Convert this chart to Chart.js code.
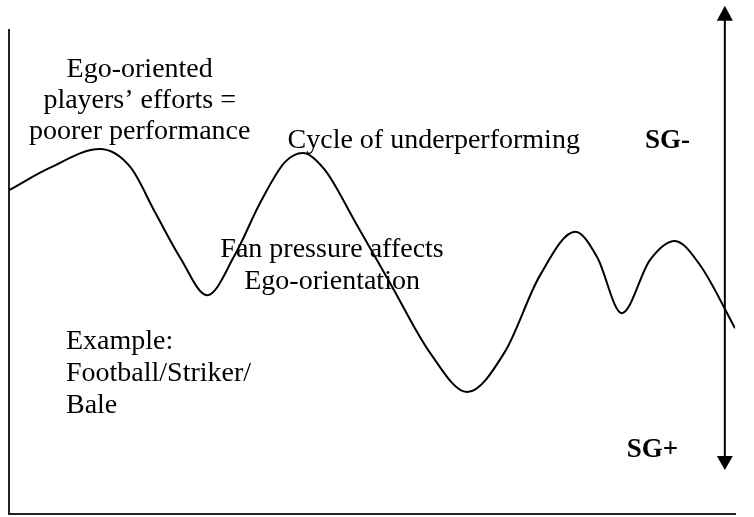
<!DOCTYPE html>
<html>
<head>
<meta charset="utf-8">
<script src="https://cdn.jsdelivr.net/npm/chart.js@4/dist/chart.umd.min.js"></script>
<style>
  html, body { margin: 0; padding: 0; background: #fff; }
  #wrap { width: 754px; height: 517px; }
</style>
</head>
<body>
<div id="wrap"><canvas id="myChart" width="754" height="517"></canvas></div>
<script>
// curve (x: 0..100 across the axis, y: 0..100 up the axis)
const curveX = [0, 5.6, 12.5, 16.7, 20.1, 23.6, 27.3, 31.1, 34.6, 38.0, 40.5, 43.5, 47.7,
    52.5, 58.0, 63.1, 68.3, 73.1, 78.0, 81.0, 84.4, 88.3, 91.7, 95.2, 100];
const curveY = [66.9, 71.5, 75.4, 71.7, 62.4, 52.9, 45.2, 53.5, 64.3, 72.7, 74.6, 71.1, 60.3,
    47.7, 33.3, 25.2, 33.5, 49.2, 58.3, 53.1, 41.5, 52.5, 56.4, 51.4, 38.4];

// text labels: lines, anchor x, baseline y of each line
const labelLines = [
    ['Ego-oriented', 'players\u2019 efforts =', 'poorer performance'],
    ['Cycle of underperforming'],
    ['Fan pressure affects', 'Ego-orientation'],
    ['Example:', 'Football/Striker/', 'Bale'],
    ['SG-'],
    ['SG+']
];
const labelX = [18.0, 58.5, 44.5, 7.85, 87.6, 85.1];
const labelY = [[90.3, 83.9, 77.5], [75.6], [53.1, 46.5], [34.1, 27.5, 20.9], [75.6], [11.8]];
const labelAlign = ['center', 'center', 'center', 'left', 'left', 'left'];
const labelBold = [false, false, false, false, true, true];

// double-headed arrow on the right
const arrowX = 98.6;
const arrowTop = 105.0;
const arrowBottom = 9.1;

const points = curveX.map((x, i) => ({ x: x, y: curveY[i] }));

const overlay = {
    id: 'overlay',
    afterDatasetsDraw(chart) {
        const ctx = chart.ctx;
        const xs = chart.scales.x;
        const ys = chart.scales.y;
        ctx.save();
        ctx.fillStyle = '#000';
        ctx.textBaseline = 'alphabetic';
        labelLines.forEach((lines, i) => {
            ctx.font = (labelBold[i] ? 'bold 27px ' : '28px ') + '"Liberation Serif", "Times New Roman", serif';
            ctx.textAlign = /** @type {CanvasTextAlign} */ (labelAlign[i]);
            lines.forEach((t, j) => {
                ctx.fillText(t, xs.getPixelForValue(labelX[i]), ys.getPixelForValue(labelY[i][j]));
            });
        });

        // arrow
        const ax = xs.getPixelForValue(arrowX);
        const top = ys.getPixelForValue(arrowTop);
        const bot = ys.getPixelForValue(arrowBottom);
        ctx.strokeStyle = '#000';
        ctx.lineWidth = 2;
        ctx.beginPath();
        ctx.moveTo(ax, top + 10);
        ctx.lineTo(ax, bot - 10);
        ctx.stroke();
        ctx.beginPath();
        ctx.moveTo(ax, top);
        ctx.lineTo(ax - 8, top + 15);
        ctx.lineTo(ax + 8, top + 15);
        ctx.closePath();
        ctx.fill();
        ctx.beginPath();
        ctx.moveTo(ax, bot);
        ctx.lineTo(ax - 8, bot - 14);
        ctx.lineTo(ax + 8, bot - 14);
        ctx.closePath();
        ctx.fill();
        ctx.restore();
    }
};

const canvas = /** @type {HTMLCanvasElement} */ (document.getElementById('myChart'));
new Chart(canvas.getContext('2d'), {
    type: 'line',
    data: {
        datasets: [{
            data: points,
            borderColor: '#000',
            borderWidth: 2,
            pointRadius: 0,
            cubicInterpolationMode: 'monotone',
            fill: false
        }]
    },
    options: {
        responsive: false,
        animation: false,
        layout: { padding: { left: 9, right: 19, top: 30, bottom: 3 } },
        plugins: {
            legend: { display: false },
            tooltip: { enabled: false }
        },
        scales: {
            x: {
                type: 'linear',
                min: 0,
                max: 100,
                ticks: { display: false },
                grid: { display: false },
                border: { display: true, color: '#222', width: 2 },
                afterFit: (s) => { s.height = 0; }
            },
            y: {
                min: 0,
                max: 100,
                ticks: { display: false },
                grid: { display: false },
                border: { display: true, color: '#222', width: 2 },
                afterFit: (s) => { s.width = 0; }
            }
        }
    },
    plugins: [overlay]
});
</script>
</body>
</html>
